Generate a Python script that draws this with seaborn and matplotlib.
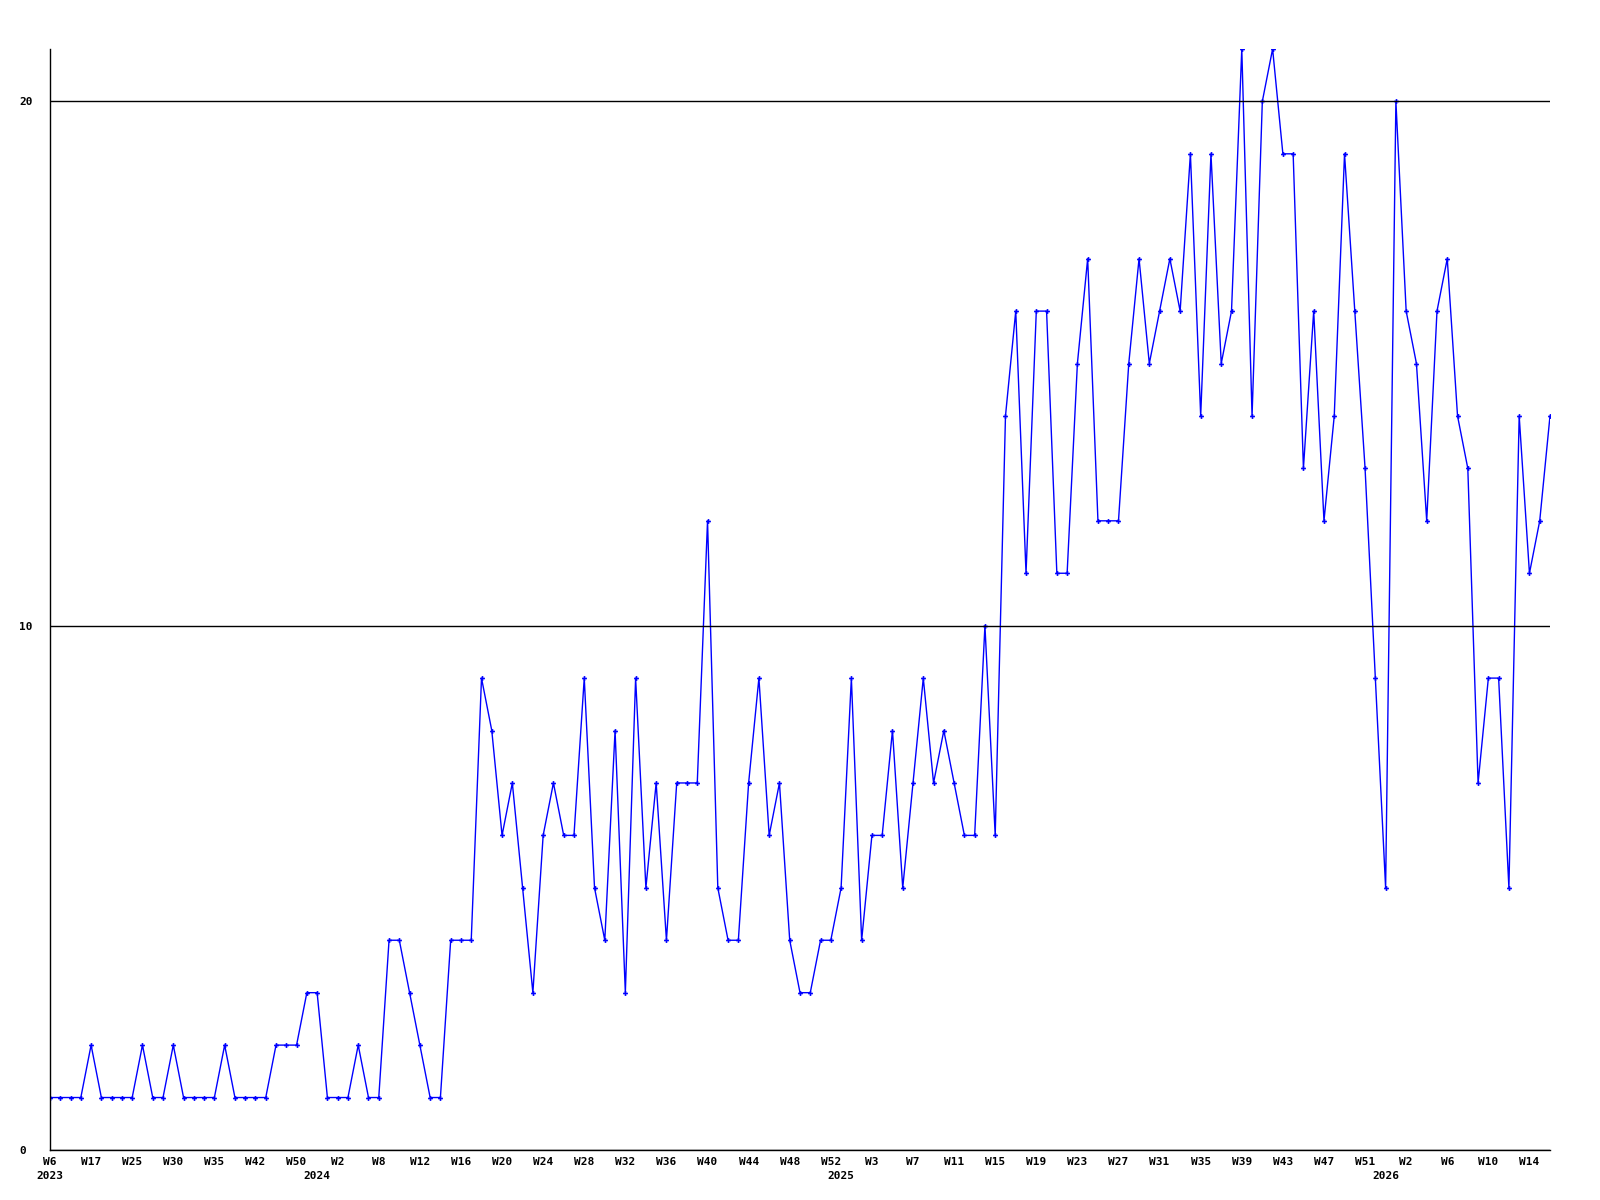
#!/usr/bin/env python3
"""Weekly count line chart, 2023 W6 - 2026 W15, drawn in seaborn."""

import matplotlib

matplotlib.use("Agg")
import matplotlib.pyplot as plt
import pandas as pd
import seaborn as sns

# one value per plotted week (points are evenly spaced, gaps in 2023/early 2024)
WEEK_COUNTS = [
    # 2023
    1, 1, 1, 1, 2, 1, 1, 1, 1, 2, 1, 1, 2, 1, 1, 1, 1, 2, 1, 1, 1, 1, 2, 2, 2,
    3, 3,
    # 2024
    1, 1, 1, 2, 1, 1, 4, 4, 3, 2, 1, 1, 4, 4, 4,
    9, 8, 6, 7, 5, 3, 6, 7, 6, 6, 9, 5, 4, 8, 3, 9, 5, 7, 4, 7, 7, 7, 12, 5,
    4, 4, 7, 9, 6, 7, 4, 3, 3, 4, 4,
    # 2025
    5, 9, 4, 6, 6, 8, 5, 7, 9, 7, 8, 7, 6, 6, 10, 6,
    14, 16, 11, 16, 16, 11, 11, 15, 17, 12, 12, 12, 15, 17, 15, 16, 17, 16,
    19, 14, 19, 15, 16, 21, 14, 20, 21, 19, 19, 13, 16, 12, 14, 19, 16, 13, 9,
    # 2026
    5, 20, 16, 15, 12, 16, 17, 14, 13, 7, 9, 9, 5, 14, 11, 12, 14,
]

# labels shown on every 4th point
TICK_LABELS = [
    "W6", "W17", "W25", "W30", "W35", "W42", "W50",
    "W2", "W8", "W12", "W16", "W20", "W24", "W28", "W32", "W36", "W40",
    "W44", "W48", "W52",
    "W3", "W7", "W11", "W15", "W19", "W23", "W27", "W31", "W35", "W39",
    "W43", "W47", "W51",
    "W2", "W6", "W10", "W14",
]
TICK_STEP = 4

YEAR_LABELS = ["2023", "2024", "2025", "2026"]
YEAR_START_IDX = [0, 26, 77, 130]

Y_TICKS = [0, 10, 20]
Y_MAX = 21

LINE_COLOR = "#0000FF"

sns.set_theme(style="white")
plt.rcParams["font.family"] = ["DejaVu Sans Mono", "DejaVu Sans"]


def main() -> None:
    df = pd.DataFrame({"idx": range(len(WEEK_COUNTS)), "count": WEEK_COUNTS})

    fig = plt.figure(figsize=(16, 12), dpi=100)
    ax = fig.add_axes([0.03125, 0.0417, 0.9375, 0.9175])

    sns.lineplot(
        data=df,
        x="idx",
        y="count",
        color=LINE_COLOR,
        linewidth=1.0,
        marker="P",
        markersize=3.5,
        markeredgewidth=0,
        ax=ax,
    )

    ax.set_xlim(0, len(WEEK_COUNTS) - 1)
    ax.set_ylim(0, Y_MAX)

    # y axis: three labelled levels with black gridlines drawn over the data
    ax.set_yticks(Y_TICKS)
    ax.set_yticklabels([str(v) for v in Y_TICKS])
    for lab in ax.get_yticklabels():
        lab.set_ha("left")
        lab.set_fontweight("bold")
        lab.set_fontsize(8)
    ax.tick_params(axis="y", length=0, pad=22, colors="black")
    ax.yaxis.grid(True, color="black", linewidth=1.0)
    ax.xaxis.grid(False)
    ax.set_axisbelow(False)

    # x axis: week labels every 4th point, years on a second row
    tick_pos = list(range(0, TICK_STEP * len(TICK_LABELS), TICK_STEP))
    ax.xaxis.remove_overlapping_locs = False
    ax.set_xticks(tick_pos)
    ax.set_xticklabels(TICK_LABELS, fontsize=8, fontweight="bold")
    ax.set_xticks(YEAR_START_IDX, minor=True)
    ax.set_xticklabels(YEAR_LABELS, minor=True, fontsize=8, fontweight="bold")
    ax.tick_params(axis="x", which="major", length=0, pad=5, colors="black")
    ax.tick_params(axis="x", which="minor", length=0, pad=15, colors="black")

    ax.set_xlabel("")
    ax.set_ylabel("")

    for side in ("top", "right"):
        ax.spines[side].set_visible(False)
    for side in ("left", "bottom"):
        ax.spines[side].set_color("black")
        ax.spines[side].set_linewidth(1.0)

    fig.savefig("out.png", dpi=100, facecolor="white")
    plt.close(fig)


if __name__ == "__main__":
    main()
